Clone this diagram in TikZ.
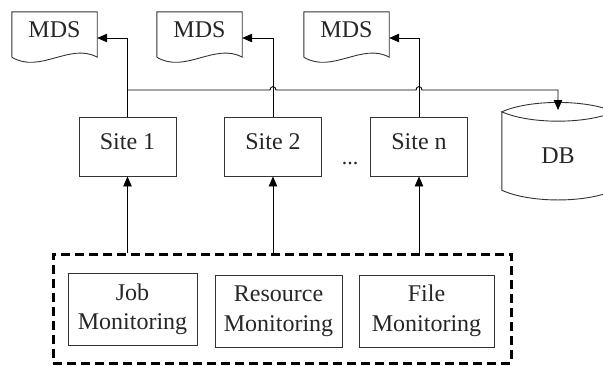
\documentclass[tikz,border=0pt]{standalone}
\usepackage{fontspec}
\setmainfont{Liberation Serif}
\usetikzlibrary{arrows.meta,calc}
\begin{document}
\begin{tikzpicture}[x=1pt,y=-1pt,
  every node/.style={font=\fontsize{24}{29.5}\selectfont, text=black!85, inner sep=0pt},
  outline/.style={draw=black!80, line width=0.9pt},
  docbox/.style={minimum width=85pt, minimum height=45pt, text depth=10.9pt},
  sitebox/.style={outline, minimum width=97pt, minimum height=59pt, text depth=10.9pt},
  monbox/.style={outline, align=center, minimum height=72pt},
  groupbox/.style={draw=black, line width=3pt, dash pattern=on 9pt off 5pt,
                   minimum width=458pt, minimum height=109pt},
  wire/.style={draw=black, line width=0.9pt},
  arr/.style={wire, -{Triangle[length=10pt,width=8.5pt]}}
]
\useasboundingbox (0,0) rectangle (603,365);

% metadata documents
\node[docbox] (mds1) at (54.5,34.5) {MDS};
\node[docbox] (mds2) at (199.5,34.5) {MDS};
\node[docbox] (mds3) at (346.5,34.5) {MDS};
\foreach \d in {mds1,mds2,mds3}{
  \draw[outline] (\d.south west) -- (\d.north west) -- (\d.north east) -- (\d.south east)
    .. controls +(-27,-15) and +(28,17) .. (\d.south west);
}

% sites
\node[sitebox] (site1) at (127.5,146.5) {Site 1};
\node[sitebox] (site2) at (273,146.5) {Site 2};
\node[sitebox] (siten) at (419,146.5) {Site n};
\node[anchor=base, font=\fontsize{22}{26}\selectfont] (dots) at (350,164) {...};

% database
\node[minimum width=112pt, minimum height=78pt, text height=24pt, text depth=0pt] (db) at (558,151) {DB};
\draw[outline] (db.north west) -- (db.south west)
  .. controls +(28,13) and +(-28,13) .. (db.south east) -- (db.north east)
  .. controls +(-28,-12.5) and +(28,-12.5) .. (db.north west)
  .. controls +(28,12.5) and +(-28,12.5) .. (db.north east);
\coordinate (dbin) at (558,110);

% monitoring group
\node[groupbox] (mon) at (282,308.5) {};
\node[monbox, minimum width=129pt] (job) at (132.5,309.5) {Job\\Monitoring};
\node[monbox, minimum width=127pt] (res) at (278.5,311) {Resource\\Monitoring};
\node[monbox, minimum width=135pt] (file) at (426.5,311) {File\\Monitoring};

% sites publish to their MDS
\draw[arr] (site1.north) |- ([yshift=-3.5pt]mds1.east);
\draw[arr] (site2.north) |- ([yshift=-3.5pt]mds2.east);
\draw[arr] (siten.north) |- ([yshift=-3.5pt]mds3.east);

% bus to the database, hopping over the site lines
\coordinate (b0) at (site1.north |- 0,90);
\draw[arr] (b0) -- ([xshift=-3pt]site2.north |- b0)
  .. controls +(0,-4.5) and +(0,-4.5) .. ([xshift=3pt]site2.north |- b0)
  -- ([xshift=-3pt]siten.north |- b0)
  .. controls +(0,-4.5) and +(0,-4.5) .. ([xshift=3pt]siten.north |- b0)
  -- (dbin |- b0) -- (dbin);

% monitoring feeds the sites
\draw[arr] (site1.south |- mon.north) -- (site1.south);
\draw[arr] (site2.south |- mon.north) -- (site2.south);
\draw[arr] (siten.south |- mon.north) -- (siten.south);
\end{tikzpicture}
\end{document}
